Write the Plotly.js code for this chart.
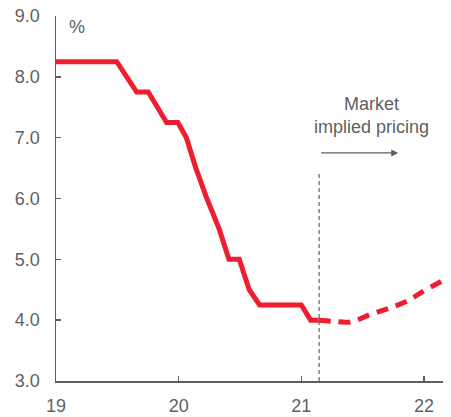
<!DOCTYPE html>
<html>
<head>
<meta charset="utf-8">
<script src="https://cdn.plot.ly/plotly-3.0.1.min.js"></script>
<style>
  html, body { margin: 0; padding: 0; background: #fff; }
  #chart { width: 451px; height: 417px; }
</style>
</head>
<body>
<div id="chart"></div>
<script>
// Policy rate history (x in years, 19 = start of 2019), in %
const histX = [19.0, 19.495, 19.658, 19.752, 19.902, 19.994, 20.063, 20.14, 20.23, 20.33, 20.41, 20.494, 20.575, 20.66, 21.0, 21.076, 21.14];
const histY = [8.25, 8.25, 7.75, 7.75, 7.25, 7.25, 7.0, 6.5, 6.0, 5.5, 5.0, 5.0, 4.5, 4.25, 4.25, 4.0, 4.0];

// Market implied path
const mktX = [21.14, 21.26, 21.40, 21.57, 21.72, 21.86, 21.99, 22.155];
const mktY = [4.0, 3.98, 3.97, 4.10, 4.20, 4.31, 4.47, 4.65];

// Divider between history and market pricing
const splitX = 21.145;
const splitTop = 6.45;

const xTicks = [19, 20, 21, 22];
const xTickText = ['19', '20', '21', '22'];
const yTicks = [3, 4, 5, 6, 7, 8, 9];
const yTickText = ['3.0', '4.0', '5.0', '6.0', '7.0', '8.0', '9.0'];

const red = '#EE1D2F';
const grey = '#5f5f5f';
const font = 'Liberation Sans, Arial, sans-serif';

const traces = [
  { x: histX, y: histY, mode: 'lines', line: { color: red, width: 5, shape: 'linear' }, hoverinfo: 'skip' },
  { x: mktX, y: mktY, mode: 'lines', line: { color: red, width: 5, dash: '12px,8px', shape: 'spline', smoothing: 1 }, hoverinfo: 'skip' }
];

const layout = {
  width: 451, height: 417,
  margin: { l: 56, r: 8, t: 16, b: 36 },
  paper_bgcolor: '#fff', plot_bgcolor: '#fff',
  showlegend: false,
  font: { family: font, color: grey, size: 18 },
  xaxis: {
    range: [19, 22.155], tickvals: xTicks, ticktext: xTickText,
    showgrid: false, zeroline: false,
    showline: true, linecolor: grey, linewidth: 1.5,
    ticks: 'inside', ticklen: 5, tickcolor: grey, tickwidth: 1.5,
    tickfont: { family: font, size: 18, color: grey },
    ticklabelstandoff: 8
  },
  yaxis: {
    range: [3, 9], tickvals: yTicks, ticktext: yTickText,
    showgrid: false, zeroline: false,
    showline: true, linecolor: grey, linewidth: 1.5,
    ticks: 'inside', ticklen: 5, tickcolor: grey, tickwidth: 1.5,
    tickfont: { family: font, size: 18, color: grey },
    ticklabelstandoff: 11
  },
  shapes: [
    { type: 'line', xref: 'x', yref: 'y', x0: splitX, x1: splitX, y0: 3, y1: splitTop,
      line: { color: grey, width: 1.2, dash: '4px,3px' } }
  ],
  annotations: [
    { text: '%', xref: 'paper', yref: 'paper', x: 0.055, y: 0.97, xanchor: 'center', yanchor: 'middle',
      showarrow: false, font: { family: font, size: 18, color: grey } },
    { text: 'Market<br>implied pricing', xref: 'x', yref: 'y', x: 21.57, y: 7.37, xanchor: 'center', yanchor: 'middle',
      showarrow: false, font: { family: font, size: 18, color: grey } },
    { text: '', xref: 'x', yref: 'y', x: 21.79, y: 6.75, ax: 21.15, ay: 6.75, axref: 'x', ayref: 'y',
      showarrow: true, arrowhead: 2, arrowsize: 1, arrowwidth: 1.4, arrowcolor: grey }
  ]
};

Plotly.newPlot('chart', traces, layout, { staticPlot: true, displayModeBar: false });
</script>
</body>
</html>
